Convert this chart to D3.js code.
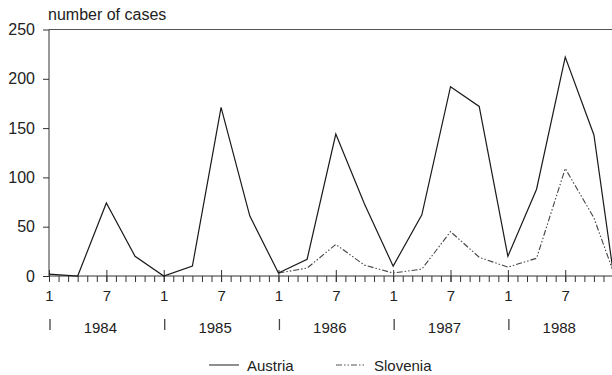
<!DOCTYPE html>
<html>
<head>
<meta charset="utf-8">
<script src="https://cdn.jsdelivr.net/npm/d3@7"></script>
<style>
  html, body { margin: 0; padding: 0; background: #fff; }
  svg { display: block; font-family: "Liberation Sans", Arial, Helvetica, sans-serif; }
</style>
</head>
<body>
<svg id="chart" width="612" height="375"></svg>
<script>
const years = [1984, 1985, 1986, 1987, 1988];
const monthTickLabels = ["1", "7"];
const yTicks = [0, 50, 100, 150, 200, 250];

const austriaPeriods = ["1984-01","1984-04","1984-07","1984-10",
                        "1985-01","1985-04","1985-07","1985-10",
                        "1986-01","1986-04","1986-07","1986-10",
                        "1987-01","1987-04","1987-07","1987-10",
                        "1988-01","1988-04","1988-07","1988-10","1988-12"];
const austriaValues = [2, 0, 74, 20,
                       0, 10, 171, 61,
                       3, 17, 144, 73,
                       10, 62, 192, 172,
                       20, 88, 222, 143, 5];

const sloveniaPeriods = ["1986-01","1986-04","1986-07","1986-10",
                         "1987-01","1987-04","1987-07","1987-10",
                         "1988-01","1988-04","1988-07","1988-10","1988-12"];
const sloveniaValues = [3, 8, 32, 11,
                        3, 7, 45, 19,
                        9, 18, 109, 59, 5];

const seriesNames = ["Austria", "Slovenia"];

// ---- helpers ----
const firstYear = years[0];
function monthIndex(p) {
  const [yy, m] = p.split("-").map(Number);
  return (yy - firstYear) * 12 + (m - 1);
}
const totalMonths = years.length * 12;

const svg = d3.select("#chart");
const textColor = "#222";
const axisColor = "#333";
const fontSize = 15;
const bigFont = 16;

const x = d3.scaleLinear().domain([0, totalMonths]).range([49, 49 + totalMonths * 9.56]);
const y = d3.scaleLinear().domain([0, 250]).range([276, 29.5]);

svg.append("defs").append("clipPath").attr("id", "plotclip")
  .append("rect").attr("x", 0).attr("y", 0).attr("width", 612).attr("height", 375);

// ---- y axis ----
const yAxis = d3.axisLeft(y).tickValues(yTicks).tickSize(6).tickPadding(8).tickFormat(d3.format("d"));
const gy = svg.append("g").attr("transform", `translate(${x(0)},0)`).call(yAxis);
gy.select(".domain").attr("stroke", axisColor).attr("d", `M0,${y(0)}V${y(250)}`);
gy.selectAll(".tick line").attr("stroke", axisColor);
gy.selectAll(".tick text").attr("fill", textColor).style("font-size", bigFont + "px");

// top frame line
svg.append("line")
  .attr("x1", x(0)).attr("x2", 612)
  .attr("y1", y(250)).attr("y2", y(250))
  .attr("stroke", "#555").attr("stroke-width", 1);

// ---- x axis: minor month ticks ----
const allMonths = d3.range(0, totalMonths);
const xMinor = d3.axisBottom(x).tickValues(allMonths).tickSize(6).tickFormat("");
const gxMinor = svg.append("g").attr("transform", `translate(0,${y(0)})`).call(xMinor);
gxMinor.select(".domain").attr("stroke", axisColor).attr("d", `M${x(0)},0H612`);
gxMinor.selectAll(".tick line").attr("stroke", axisColor);

// major ticks (months 1 and 7) with labels
const majorMonths = allMonths.filter(m => m % 6 === 0);
const xMajor = d3.axisBottom(x).tickValues(majorMonths).tickSize(6).tickPadding(8)
  .tickFormat(d => monthTickLabels[(d % 12) / 6]);
const gxMajor = svg.append("g").attr("transform", `translate(0,${y(0)})`).call(xMajor);
gxMajor.select(".domain").remove();
gxMajor.selectAll(".tick line").attr("stroke", axisColor).attr("y1", -6);
gxMajor.selectAll(".tick text").attr("fill", textColor).style("font-size", fontSize + "px");

// year row
const yearG = svg.append("g");
yearG.selectAll("line.sep").data(years).join("line")
  .attr("class", "sep")
  .attr("x1", d => x((d - firstYear) * 12) + 1)
  .attr("x2", d => x((d - firstYear) * 12) + 1)
  .attr("y1", 319).attr("y2", 330)
  .attr("stroke", "#444").attr("stroke-width", 1.3);
yearG.selectAll("text").data(years).join("text")
  .attr("x", d => x((d - firstYear) * 12 + 6) - 6)
  .attr("y", 333)
  .attr("text-anchor", "middle")
  .attr("fill", textColor)
  .style("font-size", fontSize + "px")
  .text(d => d);

// y axis title
svg.append("text")
  .attr("x", 48).attr("y", 20)
  .attr("fill", textColor)
  .style("font-size", bigFont + "px")
  .text("number of cases");

// ---- lines ----
const line = d3.line().x(d => x(d[0])).y(d => y(d[1]));
const austria = austriaPeriods.map((p, i) => [monthIndex(p), austriaValues[i]]);
const slovenia = sloveniaPeriods.map((p, i) => [monthIndex(p), sloveniaValues[i]]);

const plot = svg.append("g").attr("clip-path", "url(#plotclip)");
plot.append("path").datum(slovenia)
  .attr("d", line).attr("fill", "none")
  .attr("stroke", "#444").attr("stroke-width", 1.1)
  .attr("stroke-dasharray", "6,2,1.5,2,1.5,2");
plot.append("path").datum(austria)
  .attr("d", line).attr("fill", "none")
  .attr("stroke", "#1a1a1a").attr("stroke-width", 1.2);

// ---- legend ----
const legend = svg.append("g");
const legendItems = [
  { name: seriesNames[0], x1: 209, x2: 239, tx: 247, dash: null, color: "#333" },
  { name: seriesNames[1], x1: 336, x2: 366, tx: 374, dash: "6,2,1.5,2,1.5,2", color: "#555" }
];
legendItems.forEach(it => {
  legend.append("line")
    .attr("x1", it.x1).attr("x2", it.x2).attr("y1", 365).attr("y2", 365)
    .attr("stroke", it.color).attr("stroke-width", 1.1)
    .attr("stroke-dasharray", it.dash);
  legend.append("text")
    .attr("x", it.tx).attr("y", 371)
    .attr("fill", textColor)
    .style("font-size", fontSize + "px")
    .text(it.name);
});
</script>
</body>
</html>
